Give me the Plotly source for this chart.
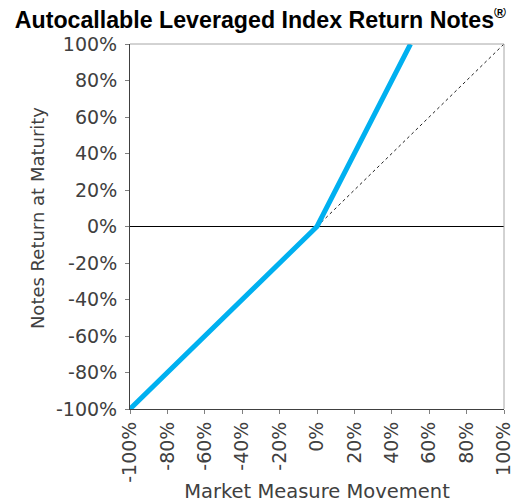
import plotly.graph_objects as go

market_move = [-100, 0, 50]
notes_return = [-100, 0, 100]
ref_x = [0, 100]
ref_y = [0, 100]
tick_vals = [-100, -80, -60, -40, -20, 0, 20, 40, 60, 80, 100]
tick_text = [f"{v}%" for v in tick_vals]

fig = go.Figure()
fig.add_trace(go.Scatter(x=ref_x, y=ref_y, mode="lines",
                         line=dict(color="#202020", width=1, dash="dot"),
                         hoverinfo="skip", showlegend=False))
fig.add_trace(go.Scatter(x=market_move, y=notes_return, mode="lines",
                         line=dict(color="#00B0F0", width=5),
                         showlegend=False))

axis_font = dict(family="DejaVu Sans", size=19, color="#404040")
title_font = dict(family="DejaVu Sans", size=19.5, color="#404040")
ytitle_font = dict(family="DejaVu Sans", size=18, color="#404040")
# page body has an 8px margin, so the figure is sized/offset to compensate
fig.update_layout(
    width=512, height=495,
    margin=dict(l=122, r=16, t=36, b=94),
    paper_bgcolor="white", plot_bgcolor="white",
    title=dict(text="Autocallable Leveraged Index Return Notes<sup>®</sup>",
               font=dict(family="Liberation Sans", size=23.2, color="black", weight="bold"),
               x=0.493, xanchor="center", y=0.976, yanchor="middle"),
    xaxis=dict(range=[-100, 100], tickvals=tick_vals, ticktext=tick_text,
               tickangle=-90, tickfont=axis_font, showgrid=False, zeroline=False,
               showline=True, linecolor="#404040", linewidth=1,
               ticks="outside", ticklen=4, tickcolor="#808080", automargin=False,
               title=dict(text="Market Measure Movement", font=title_font, standoff=14)),
    yaxis=dict(range=[-100, 100], tickvals=tick_vals, ticktext=tick_text,
               tickfont=axis_font, showgrid=False, zeroline=True,
               zerolinecolor="#000000", zerolinewidth=1,
               showline=True, linecolor="#404040", linewidth=1,
               ticks="outside", ticklen=4, tickcolor="#808080", automargin=False,
               ticklabelstandoff=4),
    annotations=[
        dict(text="Notes Return at Maturity", textangle=-90, font=ytitle_font,
             xref="paper", yref="paper", x=-0.2487, y=0.523,
             xanchor="center", yanchor="middle", showarrow=False),
    ],
    shapes=[
        dict(type="line", xref="paper", yref="paper", x0=0, x1=1, y0=1, y1=1,
             line=dict(color="#A6A6A6", width=1)),
        dict(type="line", xref="paper", yref="paper", x0=1, x1=1, y0=0, y1=1,
             line=dict(color="#A6A6A6", width=1)),
    ],
)

fig.write_html("out.html")
